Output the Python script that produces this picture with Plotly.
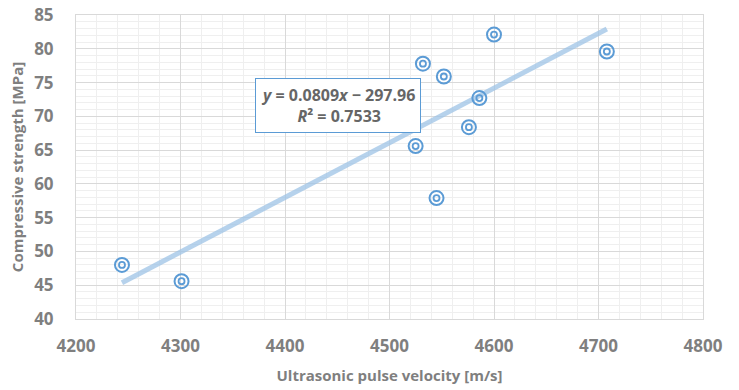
import plotly.graph_objects as go

velocity = [4244, 4301, 4525, 4532, 4545, 4552, 4576, 4586, 4600, 4708]
strength = [48.0, 45.6, 65.6, 77.8, 57.9, 75.9, 68.4, 72.7, 82.1, 79.6]
slope = 0.0809
intercept = -297.96
r2 = 0.7533
x_ticks = [4200, 4300, 4400, 4500, 4600, 4700, 4800]
y_ticks = [40, 45, 50, 55, 60, 65, 70, 75, 80, 85]

gray = "#7f7f7f"
blue = "#5b9bd5"
font_family = "Open Sans, sans-serif"

fig = go.Figure()

xl = [min(velocity), max(velocity)]
yl = [slope * v + intercept for v in xl]
fig.add_trace(go.Scatter(x=xl, y=yl, mode="lines",
                         line=dict(color="rgba(157,195,230,0.75)", width=5),
                         hoverinfo="skip", showlegend=False))
fig.add_trace(go.Scatter(x=velocity, y=strength, mode="markers",
                         marker=dict(symbol="circle-open", size=14, color=blue, line=dict(width=2, color=blue)),
                         showlegend=False))
fig.add_trace(go.Scatter(x=velocity, y=strength, mode="markers",
                         marker=dict(symbol="circle-open", size=6, color=blue, line=dict(width=1.8, color=blue)),
                         hoverinfo="skip", showlegend=False))

fig.add_annotation(x=4451, y=71.6, xref="x", yref="y",
                   text=f"<i>y</i> = {slope}<i>x</i> \u2212 {abs(intercept):.2f}<br><i>R</i>\u00b2 = {r2}",
                   showarrow=False, align="center",
                   font=dict(family=font_family, size=16, color="#666666", weight="bold"),
                   bgcolor="white", bordercolor=blue, borderwidth=1, borderpad=5)

axis_common = dict(showline=True, linecolor="#d9d9d9", linewidth=1, mirror=True,
                   gridcolor="#d9d9d9", gridwidth=1, zeroline=False, ticks="",
                   automargin=False, ticklabeloverflow="allow",
                   tickfont=dict(family=font_family, size=17, color=gray, weight="bold"))

fig.update_xaxes(range=[4200, 4800], tickvals=x_ticks, ticktext=[str(t) for t in x_ticks],
                 ticklabelstandoff=12,
                 minor=dict(dtick=20, showgrid=True, gridcolor="#efefef", gridwidth=1),
                 title=dict(text="Ultrasonic pulse velocity [m/s]", standoff=14,
                            font=dict(family=font_family, size=15, color=gray, weight="bold")),
                 **axis_common)
fig.update_yaxes(range=[40, 85], tickvals=y_ticks, ticktext=[str(t) for t in y_ticks],
                 ticklabelstandoff=18,
                 minor=dict(dtick=1, showgrid=True, gridcolor="#efefef", gridwidth=1),
                 title=dict(text="Compressive strength [MPa]", standoff=6,
                            font=dict(family=font_family, size=15, color=gray, weight="bold")),
                 **axis_common)

fig.update_layout(width=739, height=390, margin=dict(l=76, r=36, t=15, b=71),
                  plot_bgcolor="white", paper_bgcolor="white",
                  font=dict(family=font_family))

fig.write_html("out.html", config={"displayModeBar": False},
               post_script="document.body.style.margin='0';")
